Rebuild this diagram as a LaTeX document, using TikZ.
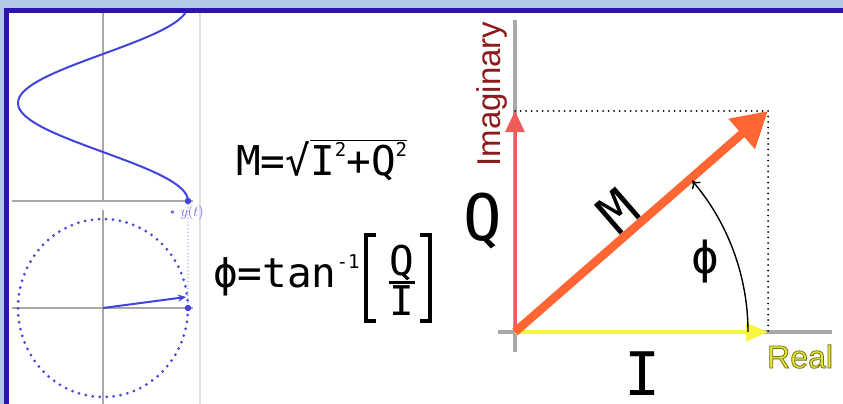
\documentclass[tikz,border=0pt]{standalone}
\usepackage{xcolor}
\usepackage{fontspec}
\usepackage{tikz}
\usetikzlibrary{arrows.meta,positioning}
\newfontfamily\eqfont{DejaVu Sans Mono}
\newfontfamily\arialfont{Liberation Sans}
\newcommand{\smallsup}[1]{\raisebox{0.46em}{\fontsize{19}{19}\selectfont #1}}
\definecolor{paleblue}{HTML}{B4C7E7}
\definecolor{frameblue}{HTML}{2C14AE}
\definecolor{waveblue}{HTML}{4242DC}
\definecolor{tracelight}{HTML}{A0A0EE}
\definecolor{axisgray}{HTML}{A8A8A8}
\definecolor{qred}{HTML}{EE5C5C}
\definecolor{morange}{HTML}{FF6633}
\definecolor{iyellow}{HTML}{F6F63C}
\definecolor{imagred}{HTML}{8C1A1A}
\definecolor{realyellow}{HTML}{E8E83A}

\begin{document}
\begin{tikzpicture}[
  x=1pt, y=-1pt,
  axis/.style={draw=axisgray, line width=2pt},
  bigaxis/.style={draw=axisgray, line width=3.2pt},
  wave/.style={draw=waveblue, line width=2pt},
  orbit/.style={draw=waveblue, line width=3pt, line cap=round,
                dash pattern=on 0pt off 7pt},
  dotnode/.style={circle, fill=waveblue, inner sep=0pt, minimum size=6.5pt},
  guide/.style={draw=black, line width=2pt, line cap=round,
                dash pattern=on 0pt off 5.5pt},
  eq/.style={font=\eqfont\fontsize{41}{41}\selectfont, inner sep=0pt},
  bracket/.style={line width=3.5pt, line cap=rect},
  >={Stealth[length=6pt]}
]
\useasboundingbox (0,0) rectangle (843,404);
% frame
\fill[paleblue] (0,0) rectangle (843,404);
\fill[frameblue] (4,8) rectangle (843,404);
\fill[white] (9,13) rectangle (843,404);

% left panel: wave and rotating phasor
\draw[draw=black!12, line width=1.2pt] (200,13) -- (200,404);
\draw[axis] (12,201) -- (193,201);
\draw[axis] (103,13) -- (103,201);
\draw[axis] (12,308) -- (193,308);
\draw[axis] (103,210) -- (103,404);
\draw[wave] plot[domain=0:188, samples=90, smooth]
  ({103+85*cos(\x*1.83673)}, {201-\x});
\coordinate (c0) at (103,308);
\draw[orbit] (c0) ellipse[x radius=85, y radius=89];
\node[dotnode] (ydot) at (188,201) {};
\node[dotnode] (xdot) at (188,308) {};
\coordinate (vtip) at (186,297);
\draw[draw=tracelight, line width=1.5pt, line cap=round,
      dash pattern=on 0pt off 3.5pt] (ydot) -- (xdot);
\draw[wave, -{Stealth[length=8pt,width=7pt]}] (c0) -- (vtip);
\node[anchor=west, inner sep=0pt, text=waveblue!80,
      font=\fontsize{15}{15}\selectfont] (ylab) at (167,213)
  {\textbullet\,$y(t)$};

% formulas
\node[eq, anchor=base west] (mag) at (236,175)
  {M=√$\overline{\hbox{I\smallsup{2}+Q\smallsup{2}}}$};
\node[eq, anchor=base west] (phase) at (213,287)
  {ϕ=tan\smallsup{-1}};
\node[eq, anchor=base] (num) at (402,275) {Q};
\node[eq, anchor=base] (den) at (402,315) {I};
\draw[line width=3pt] (389,282) -- (415,282);
\draw[bracket] (374,235) -- (366,235) -- (366,321) -- (374,321);
\draw[bracket] (422,235) -- (430,235) -- (430,321) -- (422,321);

% right panel: phasor diagram
\coordinate (O) at (515,332);
\coordinate (Qtip) at (515,111);
\coordinate (Mtip) at (768,111);
\coordinate (Itip) at (768,332);
\draw[bigaxis] (515,20) -- (515,352);
\draw[bigaxis] (498,332) -- (832,332);
\draw[guide] (Qtip) -- (Mtip) -- (Itip);
\draw[qred, line width=3pt, -{Triangle[length=21pt,width=19pt]}] (O) -- (Qtip);
\draw[iyellow, line width=4pt, -{Triangle[length=22pt,width=18pt]}] (O) -- (Itip);
\draw[morange, line width=8.5pt, -{Triangle[length=35pt,width=38pt]}] (O) -- (Mtip);
\coordinate (arcstart) at (748,332);
\draw[line width=1.4pt, -{To[length=7pt,width=11pt]}]
  (arcstart) arc[start angle=0, end angle=-40.5, radius=233];

\node[rotate=90, anchor=base, text=imagred, inner sep=0pt,
      font=\arialfont\fontsize{33}{33}\selectfont] (imag) at (500,94) {Imaginary};
\node[anchor=base, inner sep=0pt, font=\eqfont\fontsize{64}{64}\selectfont]
  (qlabel) at (483,240) {Q};
\node[anchor=base, inner sep=0pt, font=\eqfont\fontsize{60}{60}\selectfont]
  (ilabel) at (643,395) {I};
\node[rotate=41, inner sep=0pt, font=\eqfont\fontsize{54}{54}\selectfont]
  (mlabel) at (618,211) {M};
\node[inner sep=0pt, font=\eqfont\fontsize{46}{46}\selectfont]
  (philabel) at (705,262) {ϕ};
\node[anchor=base west, inner sep=0pt, text=realyellow,
      font=\arialfont\fontsize{32}{32}\selectfont] (real) at (767,368)
  {\special{pdf:literal 2 Tr 0.45 0.45 0.05 RG 0.8 w}Real\special{pdf:literal 0 Tr}};
\end{tikzpicture}
\end{document}
